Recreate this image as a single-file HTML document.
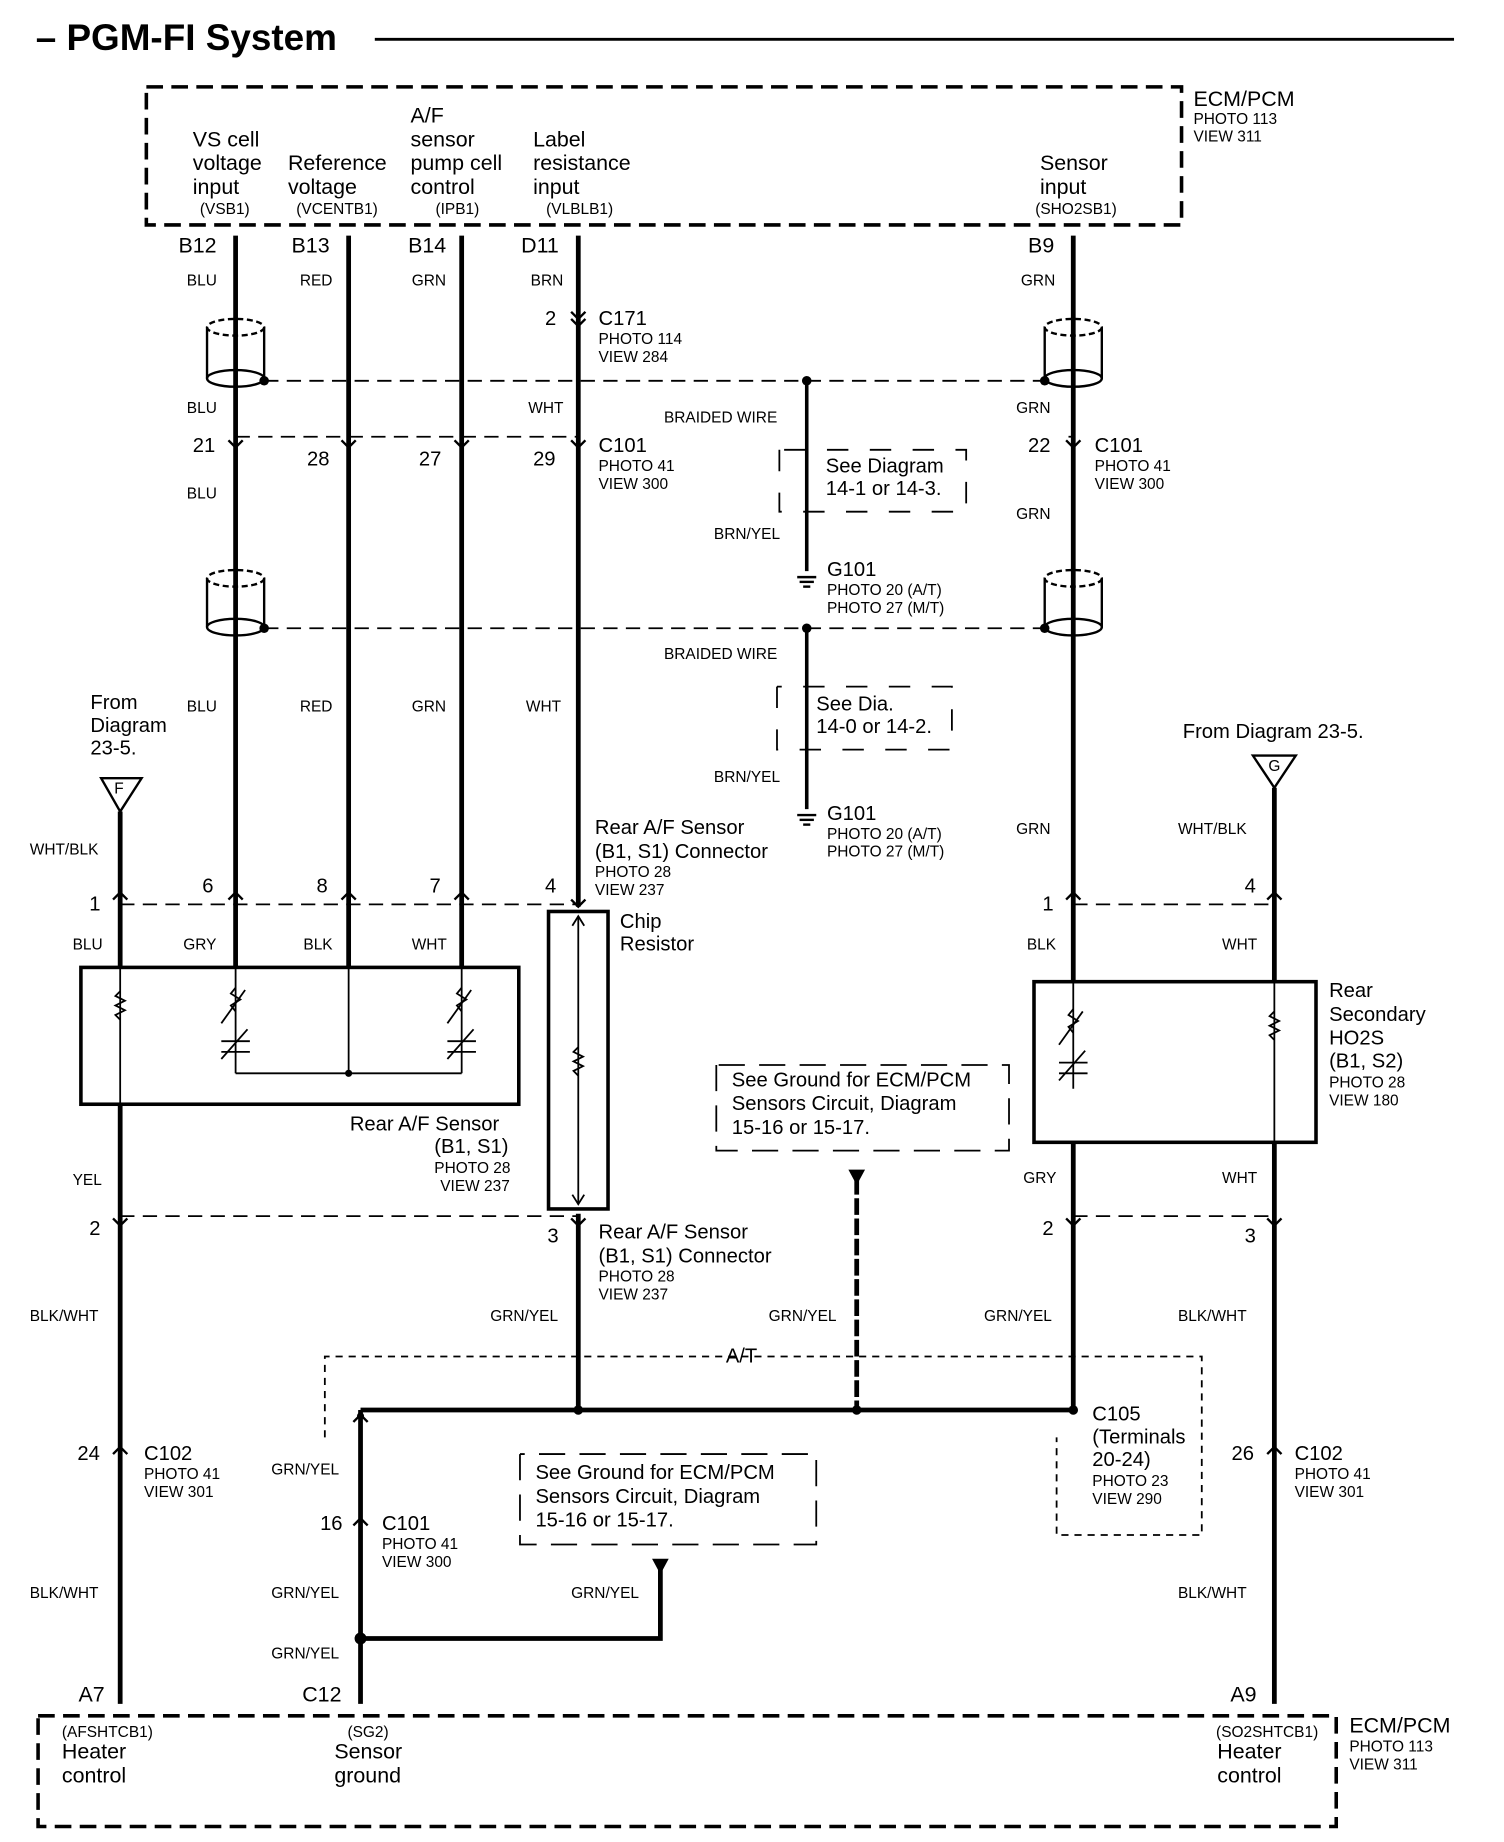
<!DOCTYPE html>
<html><head><meta charset="utf-8"><style>
html,body{margin:0;padding:0;background:#fff}
svg{display:block}
text{font-family:"Liberation Sans",Arial,sans-serif;fill:#000}
.t{font-size:18px}.s{font-size:13px}.w{font-size:13px}.p{font-size:17px}
</style></head><body>
<svg width="1504" height="1842" viewBox="0 0 1264 1548" xmlns="http://www.w3.org/2000/svg">
<rect width="1264" height="1548" fill="#fff"/>
<text x="30" y="42" style="font-size:31px;font-weight:bold">– PGM-FI System</text>
<line x1="315" y1="33" x2="1222" y2="33" stroke="#000" stroke-width="2.5"/>
<!-- top ECM -->
<rect x="123" y="73" width="870" height="116" fill="none" stroke="#000" stroke-width="3" stroke-dasharray="14,7"/>
<text class="t" x="1003" y="89">ECM/PCM</text><text class="s" x="1003" y="104">PHOTO 113</text><text class="s" x="1003" y="119">VIEW 311</text>
<g class="t"><text x="162" y="123">VS cell</text><text x="162" y="143">voltage</text><text x="162" y="163">input</text>
<text x="242" y="143">Reference</text><text x="242" y="163">voltage</text>
<text x="345" y="103">A/F</text><text x="345" y="123">sensor</text><text x="345" y="143">pump cell</text><text x="345" y="163">control</text>
<text x="448" y="123">Label</text><text x="448" y="143">resistance</text><text x="448" y="163">input</text>
<text x="874" y="143">Sensor</text><text x="874" y="163">input</text></g>
<g class="s"><text x="168" y="180">(VSB1)</text><text x="249" y="180">(VCENTB1)</text><text x="366" y="180">(IPB1)</text><text x="459" y="180">(VLBLB1)</text><text x="870" y="180">(SHO2SB1)</text></g>
<!-- pins -->
<g class="t"><text x="150" y="212">B12</text><text x="245" y="212">B13</text><text x="343" y="212">B14</text><text x="438" y="212">D11</text><text x="864" y="212">B9</text></g>
<!-- main wires -->
<g stroke="#000" stroke-width="4" fill="none">
<line x1="198" y1="198" x2="198" y2="813"/><line x1="293" y1="198" x2="293" y2="813"/><line x1="388" y1="198" x2="388" y2="813"/>
<line x1="486" y1="198" x2="486" y2="762"/><line x1="486" y1="1020" x2="486" y2="1185"/>
<line x1="902" y1="198" x2="902" y2="825"/><line x1="902" y1="960" x2="902" y2="1185"/>
<line x1="101" y1="682" x2="101" y2="813"/><line x1="101" y1="928" x2="101" y2="1432"/>
<line x1="1071" y1="662" x2="1071" y2="825"/><line x1="1071" y1="960" x2="1071" y2="1432"/>
<line x1="303" y1="1185" x2="902" y2="1185"/><line x1="303" y1="1185" x2="303" y2="1432"/>
<polyline points="303,1377 555,1377 555,1315"/>
<line x1="720" y1="990" x2="720" y2="1185" stroke-dasharray="14,3"/>
</g>
<g stroke="#000" stroke-width="3"><line x1="678" y1="320" x2="678" y2="480"/><line x1="678" y1="528" x2="678" y2="680"/></g>
<polygon points="713,983 727,983 720,996" fill="#000"/><polygon points="548,1310 562,1310 555,1323" fill="#000"/>
<g fill="#000"><circle cx="678" cy="320" r="4"/><circle cx="678" cy="528" r="4"/><circle cx="303" cy="1377" r="5"/><circle cx="486" cy="1185" r="4"/><circle cx="720" cy="1185" r="4"/><circle cx="902" cy="1185" r="4"/><circle cx="303" cy="1190" r="3"/>
<circle cx="222" cy="320" r="4"/><circle cx="878" cy="320" r="4"/><circle cx="222" cy="528" r="4"/><circle cx="878" cy="528" r="4"/></g>
<!-- ground symbols -->
<g stroke="#000" stroke-width="2"><line x1="670" y1="485" x2="686" y2="485"/><line x1="672" y1="489" x2="684" y2="489"/><line x1="675" y1="493" x2="681" y2="493"/>
<line x1="670" y1="685" x2="686" y2="685"/><line x1="672" y1="689" x2="684" y2="689"/><line x1="675" y1="693" x2="681" y2="693"/></g>
<!-- dashed lines -->
<g stroke="#000" stroke-width="1.5" stroke-dasharray="12,7" fill="none">
<line x1="222" y1="320" x2="878" y2="320"/><line x1="222" y1="528" x2="878" y2="528"/>
<line x1="198" y1="367" x2="486" y2="367"/><line x1="898" y1="367" x2="902" y2="367"/>
<line x1="101" y1="760" x2="486" y2="760"/><line x1="902" y1="760" x2="1071" y2="760"/>
<line x1="101" y1="1022" x2="486" y2="1022"/><line x1="902" y1="1022" x2="1071" y2="1022"/>
<polyline points="655,378 655,430 812,430 812,378 655,378" stroke-dasharray="18,18"/>
<polyline points="653,577 653,630 800,630 800,577 653,577" stroke-dasharray="18,18"/>
<polyline points="602,895 602,967 848,967 848,895 602,895" stroke-dasharray="22,12"/>
<polyline points="437,1222 437,1298 686,1298 686,1222 437,1222" stroke-dasharray="22,12"/>
</g>
<g stroke="#000" stroke-width="1.5" stroke-dasharray="6,5" fill="none">
<polyline points="273,1208 273,1140 1010,1140 1010,1290 888,1290 888,1208"/>
</g>
<!-- shields -->
<g stroke="#000" stroke-width="2" fill="none">
<ellipse cx="198" cy="275" rx="24" ry="7" stroke-dasharray="5,3"/><ellipse cx="198" cy="318" rx="24" ry="7"/><line x1="174" y1="275" x2="174" y2="318"/><line x1="222" y1="275" x2="222" y2="318"/>
<ellipse cx="902" cy="275" rx="24" ry="7" stroke-dasharray="5,3"/><ellipse cx="902" cy="318" rx="24" ry="7"/><line x1="878" y1="275" x2="878" y2="318"/><line x1="926" y1="275" x2="926" y2="318"/>
<ellipse cx="198" cy="486" rx="24" ry="7" stroke-dasharray="5,3"/><ellipse cx="198" cy="527" rx="24" ry="7"/><line x1="174" y1="486" x2="174" y2="527"/><line x1="222" y1="486" x2="222" y2="527"/>
<ellipse cx="902" cy="486" rx="24" ry="7" stroke-dasharray="5,3"/><ellipse cx="902" cy="527" rx="24" ry="7"/><line x1="878" y1="486" x2="878" y2="527"/><line x1="926" y1="486" x2="926" y2="527"/>
</g>
<!-- triangles -->
<polygon points="85,654 119,654 101,682" fill="#fff" stroke="#000" stroke-width="2"/><text class="s" x="96" y="667">F</text>
<polygon points="1053,635 1089,635 1071,662" fill="#fff" stroke="#000" stroke-width="2"/><text class="s" x="1066" y="648">G</text>
<!-- boxes -->
<rect x="68" y="813" width="368" height="115" fill="none" stroke="#000" stroke-width="3"/>
<rect x="869" y="825" width="237" height="135" fill="none" stroke="#000" stroke-width="3"/>
<rect x="461" y="766" width="50" height="250" fill="none" stroke="#000" stroke-width="3"/>
<g stroke="#000" stroke-width="1.5" fill="none">
<line x1="486" y1="770" x2="486" y2="1012"/><polyline points="481,778 486,770 491,778"/><polyline points="481,1004 486,1012 491,1004"/>
<line x1="101" y1="813" x2="101" y2="928"/><line x1="293" y1="813" x2="293" y2="902"/>
<line x1="198" y1="813" x2="198" y2="902"/><line x1="388" y1="813" x2="388" y2="902"/><line x1="198" y1="902" x2="388" y2="902"/>
<line x1="902" y1="825" x2="902" y2="915"/><line x1="1071" y1="825" x2="1071" y2="960"/>
<polyline points="101,833 97,837 105,841 97,845 105,849 97,853 101,857"/>
<polyline points="486,880 482,884 490,888 482,892 490,896 482,900 486,904"/>
<polyline points="1071,850 1067,854 1075,858 1067,862 1075,866 1067,870 1071,874"/>
<polyline points="198,830 194,835 202,840 194,845 198,850"/><line x1="186" y1="860" x2="206" y2="832"/>
<polyline points="388,830 384,835 392,840 384,845 388,850"/><line x1="376" y1="860" x2="396" y2="832"/>
<line x1="186" y1="875" x2="210" y2="875"/><line x1="186" y1="884" x2="210" y2="884"/><line x1="186" y1="890" x2="208" y2="865"/>
<line x1="376" y1="875" x2="400" y2="875"/><line x1="376" y1="884" x2="400" y2="884"/><line x1="376" y1="890" x2="398" y2="865"/>
<polyline points="902,848 898,853 906,858 898,863 902,868"/><line x1="890" y1="878" x2="910" y2="850"/>
<line x1="890" y1="893" x2="914" y2="893"/><line x1="890" y1="902" x2="914" y2="902"/><line x1="890" y1="908" x2="912" y2="883"/>
</g>
<circle cx="293" cy="902" r="3" fill="#000"/>
<!-- bottom ECM -->
<rect x="32" y="1442" width="1091" height="93" fill="none" stroke="#000" stroke-width="3" stroke-dasharray="14,7"/>
<text class="t" x="1134" y="1456">ECM/PCM</text><text class="s" x="1134" y="1472">PHOTO 113</text><text class="s" x="1134" y="1487">VIEW 311</text>
<g class="s"><text x="52" y="1460">(AFSHTCB1)</text><text x="292" y="1460">(SG2)</text><text x="1022" y="1460">(SO2SHTCB1)</text></g>
<g class="t"><text x="52" y="1478">Heater</text><text x="52" y="1498">control</text><text x="281" y="1478">Sensor</text><text x="281" y="1498">ground</text><text x="1023" y="1478">Heater</text><text x="1023" y="1498">control</text>
<text x="66" y="1430">A7</text><text x="254" y="1430">C12</text><text x="1034" y="1430">A9</text></g>
<!-- wire color labels -->
<g class="w">
<text x="157" y="240">BLU</text><text x="252" y="240">RED</text><text x="346" y="240">GRN</text><text x="446" y="240">BRN</text><text x="858" y="240">GRN</text>
<text x="157" y="347">BLU</text><text x="444" y="347">WHT</text><text x="854" y="347">GRN</text>
<text x="157" y="419">BLU</text><text x="854" y="436">GRN</text>
<text x="558" y="355">BRAIDED WIRE</text><text x="600" y="453">BRN/YEL</text>
<text x="558" y="554">BRAIDED WIRE</text><text x="600" y="657">BRN/YEL</text>
<text x="157" y="598">BLU</text><text x="252" y="598">RED</text><text x="346" y="598">GRN</text><text x="442" y="598">WHT</text><text x="854" y="701">GRN</text>
<text x="25" y="718">WHT/BLK</text><text x="990" y="701">WHT/BLK</text>
<text x="61" y="798">BLU</text><text x="154" y="798">GRY</text><text x="255" y="798">BLK</text><text x="346" y="798">WHT</text>
<text x="863" y="798">BLK</text><text x="1027" y="798">WHT</text>
<text x="61" y="996">YEL</text><text x="860" y="994">GRY</text><text x="1027" y="994">WHT</text>
<text x="25" y="1110">BLK/WHT</text><text x="412" y="1110">GRN/YEL</text><text x="646" y="1110">GRN/YEL</text><text x="827" y="1110">GRN/YEL</text><text x="990" y="1110">BLK/WHT</text>
<text x="228" y="1239">GRN/YEL</text><text x="25" y="1343">BLK/WHT</text><text x="228" y="1343">GRN/YEL</text><text x="480" y="1343">GRN/YEL</text><text x="990" y="1343">BLK/WHT</text>
<text x="228" y="1394">GRN/YEL</text>
</g>
<!-- pin numbers & connectors -->
<g class="p">
<text x="458" y="273">2</text><text x="503" y="273">C171</text>
<text x="162" y="380">21</text><text x="258" y="391">28</text><text x="352" y="391">27</text><text x="448" y="391">29</text><text x="503" y="380">C101</text>
<text x="864" y="380">22</text><text x="920" y="380">C101</text>
<text x="694" y="397">See Diagram</text><text x="694" y="416">14-1 or 14-3.</text>
<text x="695" y="484">G101</text>
<text x="686" y="597">See Dia.</text><text x="686" y="616">14-0 or 14-2.</text>
<text x="695" y="689">G101</text>
<text x="76" y="596">From</text><text x="76" y="615">Diagram</text><text x="76" y="634">23-5.</text>
<text x="994" y="620">From Diagram 23-5.</text>
<text x="500" y="701">Rear A/F Sensor</text><text x="500" y="721">(B1, S1) Connector</text>
<text x="75" y="765">1</text><text x="170" y="750">6</text><text x="266" y="750">8</text><text x="361" y="750">7</text><text x="458" y="750">4</text>
<text x="876" y="765">1</text><text x="1046" y="750">4</text>
<text x="521" y="780">Chip</text><text x="521" y="799">Resistor</text>
<text x="1117" y="838">Rear</text><text x="1117" y="858">Secondary</text><text x="1117" y="878">HO2S</text><text x="1117" y="897">(B1, S2)</text>
<text x="294" y="950">Rear A/F Sensor</text><text x="365" y="969">(B1, S1)</text>
<text x="615" y="913">See Ground for ECM/PCM</text><text x="615" y="933">Sensors Circuit, Diagram</text><text x="615" y="953">15-16 or 15-17.</text>
<text x="75" y="1038">2</text><text x="460" y="1044">3</text><text x="876" y="1038">2</text><text x="1046" y="1044">3</text>
<text x="503" y="1041">Rear A/F Sensor</text><text x="503" y="1061">(B1, S1) Connector</text>
<text x="610" y="1145">A/T</text>
<text x="918" y="1194">C105</text><text x="918" y="1213">(Terminals</text><text x="918" y="1232">20-24)</text>
<text x="65" y="1227">24</text><text x="121" y="1227">C102</text><text x="1035" y="1227">26</text><text x="1088" y="1227">C102</text>
<text x="450" y="1243">See Ground for ECM/PCM</text><text x="450" y="1263">Sensors Circuit, Diagram</text><text x="450" y="1283">15-16 or 15-17.</text>
<text x="269" y="1286">16</text><text x="321" y="1286">C101</text>
</g>
<g class="s">
<text x="503" y="289">PHOTO 114</text><text x="503" y="304">VIEW 284</text>
<text x="503" y="396">PHOTO 41</text><text x="503" y="411">VIEW 300</text>
<text x="920" y="396">PHOTO 41</text><text x="920" y="411">VIEW 300</text>
<text x="695" y="500">PHOTO 20 (A/T)</text><text x="695" y="515">PHOTO 27 (M/T)</text>
<text x="695" y="705">PHOTO 20 (A/T)</text><text x="695" y="720">PHOTO 27 (M/T)</text>
<text x="500" y="737">PHOTO 28</text><text x="500" y="752">VIEW 237</text>
<text x="1117" y="914">PHOTO 28</text><text x="1117" y="929">VIEW 180</text>
<text x="365" y="986">PHOTO 28</text><text x="370" y="1001">VIEW 237</text>
<text x="503" y="1077">PHOTO 28</text><text x="503" y="1092">VIEW 237</text>
<text x="918" y="1249">PHOTO 23</text><text x="918" y="1264">VIEW 290</text>
<text x="121" y="1243">PHOTO 41</text><text x="121" y="1258">VIEW 301</text>
<text x="1088" y="1243">PHOTO 41</text><text x="1088" y="1258">VIEW 301</text>
<text x="321" y="1302">PHOTO 41</text><text x="321" y="1317">VIEW 300</text>
</g>
<!-- connector marks -->
<g stroke="#000" stroke-width="2" fill="none">
<polyline points="192,370 198,376 204,370"/><polyline points="287,370 293,376 299,370"/><polyline points="382,370 388,376 394,370"/><polyline points="480,370 486,376 492,370"/><polyline points="896,370 902,376 908,370"/>
<polyline points="480,262 486,268 492,262"/><polyline points="480,268 486,274 492,268"/>
<polyline points="95,756 101,750 107,756"/><polyline points="192,756 198,750 204,756"/><polyline points="287,756 293,750 299,756"/><polyline points="382,756 388,750 394,756"/><polyline points="896,756 902,750 908,756"/><polyline points="1065,756 1071,750 1077,756"/><polyline points="480,756 486,762 492,756"/>
<polyline points="95,1024 101,1030 107,1024"/><polyline points="480,1024 486,1030 492,1024"/><polyline points="896,1024 902,1030 908,1024"/><polyline points="1065,1024 1071,1030 1077,1024"/>
<polyline points="95,1222 101,1216 107,1222"/><polyline points="1065,1222 1071,1216 1077,1222"/><polyline points="297,1282 303,1276 309,1282"/><polyline points="297,1195 303,1189 309,1195"/>
</g>
</svg>
</body></html>
